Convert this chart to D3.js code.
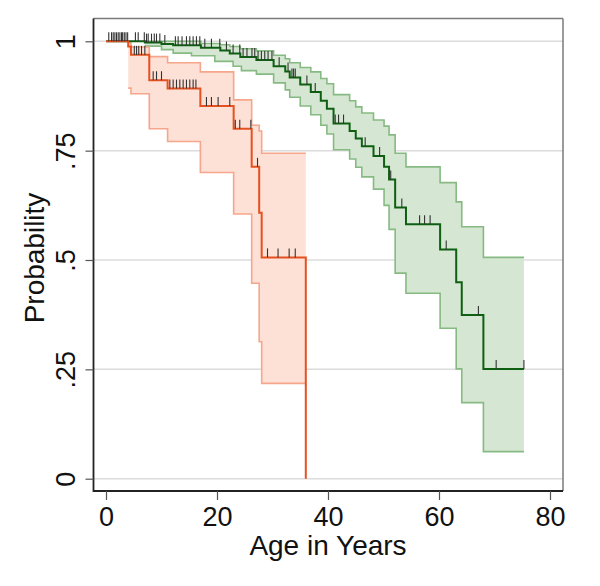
<!DOCTYPE html>
<html><head><meta charset="utf-8">
<script src="https://cdn.jsdelivr.net/npm/d3@7"></script>
<style>
html,body{margin:0;padding:0;background:#fff;}
svg{display:block;font-family:"Liberation Sans",Arial,Helvetica,sans-serif;}
</style></head>
<body><svg id="chart" width="600" height="586"></svg>
<script>
// ---------- data ----------
const xTicks = [0, 20, 40, 60, 80];
const yTicks = [0, 0.25, 0.5, 0.75, 1];
const yTickLabels = ["0", ".25", ".5", ".75", "1"];
const xTitle = "Age in Years";
const yTitle = "Probability";

// red group: Kaplan-Meier estimate
const redTime = [0, 4.0, 4.5, 7.8, 11.1, 17.0, 23.0, 26.25, 27.6, 28.05, 36.0];
const redSurv = [1, 0.988, 0.969, 0.911, 0.892, 0.852, 0.800, 0.713, 0.608, 0.506, 0];
// red confidence band
const redBandTime = [4.0, 4.5, 7.8, 11.1, 17.0, 23.0, 26.25, 27.6, 28.05];
const redLower = [0.893, 0.880, 0.800, 0.771, 0.700, 0.605, 0.447, 0.313, 0.218];
const redUpper = [0.997, 0.987, 0.965, 0.951, 0.930, 0.866, 0.808, 0.795, 0.744];
const redEnd = 36.0;
const redCensor = [5.1, 5.5, 5.9, 6.4, 7.0, 8.5, 9.1, 10.0, 11.5, 12.1, 12.7, 13.3, 13.9, 14.5, 15.1, 15.7, 16.2,
  18.1, 19.0, 20.2, 22.3, 23.3, 24.1, 26.1, 27.3, 29.1, 31.0, 33.0, 34.1];

// green group: Kaplan-Meier estimate
const greenTime = [0, 7.0, 10.0, 12.1, 17.1, 20.6, 22.3, 24.2, 27.1, 30.2, 32.3, 33.1, 35.0, 36.9, 38.7, 39.8,
  41.0, 43.9, 45.0, 46.1, 48.2, 50.1, 51.0, 52.1, 54.05, 60.2, 63.1, 64.1, 68.0];
const greenSurv = [1, 0.997, 0.994, 0.991, 0.985, 0.979, 0.972, 0.964, 0.957, 0.943, 0.931, 0.917, 0.901, 0.884,
  0.864, 0.846, 0.812, 0.795, 0.778, 0.760, 0.738, 0.713, 0.684, 0.620, 0.582, 0.524, 0.449, 0.374, 0.251];
const greenEnd = 75.3;
// green confidence band
const greenBandTime = [7.0, 10.0, 12.1, 15.4, 17.1, 19.6, 20.6, 22.3, 22.9, 24.2, 24.4, 27.1, 30.2, 32.3, 33.1,
  35.0, 36.9, 38.7, 39.8, 41.0, 43.9, 45.0, 46.1, 48.2, 50.1, 51.0, 52.1, 54.05, 60.2, 63.1, 64.1, 68.0];
const greenLower = [0.989, 0.981, 0.973, 0.967, 0.967, 0.954, 0.954, 0.954, 0.943, 0.943, 0.933, 0.925, 0.905,
  0.889, 0.872, 0.852, 0.832, 0.808, 0.788, 0.752, 0.731, 0.712, 0.690, 0.662, 0.625, 0.570, 0.470, 0.424, 0.344,
  0.251, 0.174, 0.062];
const greenUpper = [1, 1, 1, 1, 0.995, 0.995, 0.992, 0.988, 0.988, 0.983, 0.983, 0.978, 0.968, 0.960, 0.951,
  0.940, 0.930, 0.915, 0.903, 0.878, 0.864, 0.850, 0.836, 0.820, 0.806, 0.786, 0.744, 0.713, 0.677, 0.633, 0.576,
  0.506];
const greenCensor = [0.5, 1.0, 1.3, 1.6, 1.9, 2.2, 2.5, 2.8, 3.0, 3.3, 3.6, 3.9, 5.3, 5.8, 6.9, 7.3, 7.6, 8.2, 8.7,
  9.1, 9.7, 10.6, 12.5, 13.0, 13.7, 14.5, 15.1, 15.7, 16.3, 16.9, 17.8, 19.0, 20.5, 21.7, 22.9, 24.1, 24.7, 25.4,
  26.3, 26.8, 27.4, 28.0, 28.6, 29.2, 29.9, 31.2, 32.8, 33.5, 33.8, 34.1, 36.2, 37.7, 41.3, 41.9, 42.8, 46.7,
  49.3, 51.3, 53.3, 56.5, 57.4, 58.4, 61.3, 67.1, 70.3, 75.3];

// ---------- layout ----------
const svg = d3.select("#chart");
const frame = {left: 93.5, right: 563, top: 18.5, bottom: 491};
const x = d3.scaleLinear().domain([0, 80]).range([106, 550]);
const y = d3.scaleLinear().domain([0, 1]).range([478.7, 41.3]);

// gridlines
svg.append("g").selectAll("line").data(yTicks).join("line")
  .attr("x1", frame.left).attr("x2", frame.right)
  .attr("y1", d => y(d)).attr("y2", d => y(d))
  .attr("stroke", "#dcdcdc").attr("stroke-width", 1.5);

function stepVal(times, vals, t) {
  let v = vals[0];
  for (let i = 0; i < times.length; i++) if (times[i] <= t) v = vals[i];
  return v;
}
function bandData(times, lo, up, end) {
  const pts = times.map((t, i) => ({t, lo: lo[i], up: up[i]}));
  pts.push({t: end, lo: lo[lo.length - 1], up: up[up.length - 1]});
  return pts;
}
function kmData(times, vals, end) {
  const pts = times.map((t, i) => ({t, v: vals[i]}));
  if (end != null && times[times.length - 1] < end) pts.push({t: end, v: vals[vals.length - 1]});
  return pts;
}

const area = d3.area().curve(d3.curveStepAfter)
  .x(d => x(d.t)).y0(d => y(d.lo)).y1(d => y(d.up));
const lineLo = d3.line().curve(d3.curveStepAfter).x(d => x(d.t)).y(d => y(d.lo));
const lineUp = d3.line().curve(d3.curveStepAfter).x(d => x(d.t)).y(d => y(d.up));
const kmLine = d3.line().curve(d3.curveStepAfter).x(d => x(d.t)).y(d => y(d.v));

const groups = [
  {band: bandData(greenBandTime, greenLower, greenUpper, greenEnd), km: kmData(greenTime, greenSurv, greenEnd),
   time: greenTime, surv: greenSurv, censor: greenCensor,
   fill: "#d5e7d2", edge: "#86ba82", line: "#0f5f12"},
  {band: bandData(redBandTime, redLower, redUpper, redEnd), km: kmData(redTime, redSurv, redEnd),
   time: redTime, surv: redSurv, censor: redCensor,
   fill: "#fde0d6", edge: "#f6a68b", line: "#e5511f"}
];

// bands
groups.forEach(g => {
  svg.append("path").attr("d", area(g.band)).attr("fill", g.fill).attr("stroke", "none");
});
groups.forEach(g => {
  svg.append("path").attr("d", lineLo(g.band)).attr("fill", "none").attr("stroke", g.edge).attr("stroke-width", 1.6);
  svg.append("path").attr("d", lineUp(g.band)).attr("fill", "none").attr("stroke", g.edge).attr("stroke-width", 1.6);
});
// KM lines
groups.forEach(g => {
  svg.append("path").attr("d", kmLine(g.km)).attr("fill", "none").attr("stroke", g.line).attr("stroke-width", 2);
});
// censor ticks
groups.forEach(g => {
  svg.append("g").selectAll("line").data(g.censor).join("line")
    .attr("x1", d => x(d)).attr("x2", d => x(d))
    .attr("y1", d => y(stepVal(g.time, g.surv, d)))
    .attr("y2", d => y(stepVal(g.time, g.surv, d)) - 9)
    .attr("stroke", "#333").attr("stroke-width", 1.1);
});

// frame
svg.append("line").attr("x1", frame.left).attr("x2", frame.right).attr("y1", frame.top).attr("y2", frame.top)
  .attr("stroke", "#7a7a7a").attr("stroke-width", 1.5);
svg.append("line").attr("x1", frame.right).attr("x2", frame.right).attr("y1", frame.top).attr("y2", frame.bottom)
  .attr("stroke", "#7a7a7a").attr("stroke-width", 1.5);
svg.append("line").attr("x1", frame.left).attr("x2", frame.left).attr("y1", frame.top).attr("y2", frame.bottom + 1)
  .attr("stroke", "#222").attr("stroke-width", 1.8);
svg.append("line").attr("x1", frame.left).attr("x2", frame.right).attr("y1", frame.bottom).attr("y2", frame.bottom)
  .attr("stroke", "#222").attr("stroke-width", 2);

// x axis
const xAxis = d3.axisBottom(x).tickValues(xTicks).tickSize(9).tickPadding(6).tickFormat(d3.format("d"));
const gx = svg.append("g").attr("transform", `translate(0,${frame.bottom})`).call(xAxis);
gx.select(".domain").remove();
gx.selectAll(".tick line").attr("stroke", "#555").attr("stroke-width", 1.2);
gx.selectAll(".tick text").attr("font-size", 27).attr("fill", "#111")
  .attr("font-family", "'Liberation Sans', Arial, sans-serif").attr("dy", "0.73em");

// y axis
const yAxis = d3.axisLeft(y).tickValues(yTicks).tickSize(8).tickFormat((d, i) => yTickLabels[i]);
const gy = svg.append("g").attr("transform", `translate(${frame.left},0)`).call(yAxis);
gy.select(".domain").remove();
gy.selectAll(".tick line").attr("stroke", "#555").attr("stroke-width", 1.2);
gy.selectAll(".tick text")
  .attr("x", null).attr("dy", null)
  .attr("transform", "translate(-19,0) rotate(-90)")
  .attr("text-anchor", "middle").attr("font-size", 27).attr("fill", "#111")
  .attr("font-family", "'Liberation Sans', Arial, sans-serif");

// titles
svg.append("text").attr("x", 328).attr("y", 555).attr("text-anchor", "middle")
  .attr("font-size", 28).attr("fill", "#111").text(xTitle);
svg.append("text").attr("transform", "translate(44,258) rotate(-90)").attr("text-anchor", "middle")
  .attr("font-size", 28).attr("fill", "#111").text(yTitle);
</script>
</body></html>
